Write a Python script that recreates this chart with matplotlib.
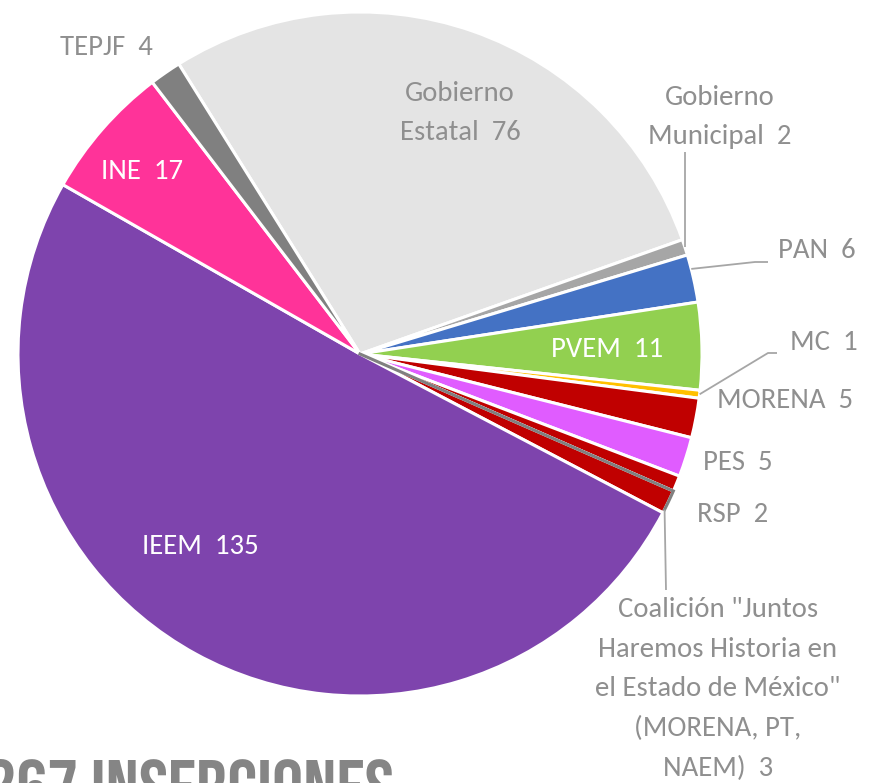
import numpy as np
import matplotlib
matplotlib.use("Agg")
import matplotlib.pyplot as plt

categories = ["Gobierno\nEstatal", "Gobierno\nMunicipal", "PAN", "PVEM", "MC", "MORENA",
              "PES", "RSP",
              "Coalición \"Juntos\nHaremos Historia en\nel Estado de México\"\n(MORENA, PT,\nNAEM)",
              "IEEM", "INE", "TEPJF"]
values = [76, 2, 6, 11, 1, 5, 5, 2, 3, 135, 17, 4]
colors = ["#e4e4e4", "#a6a6a6", "#4472c4", "#92d050", "#ffc000", "#c00000",
          "#e05cff", "#c00000", "#c00000", "#7e44ad", "#ff3399", "#808080"]
total_label = "267 INSERCIONES"

W, H = 869, 783
CX, CY, R = 360, 354, 342

fig = plt.figure(figsize=(W / 100, H / 100), dpi=100)
ax = fig.add_axes([(CX - R) / W, (H - CY - R) / H, 2 * R / W, 2 * R / H])

START = 122
wedges, _ = ax.pie(values, colors=colors, startangle=START, counterclock=False, radius=1,
                   wedgeprops=dict(edgecolor="white", linewidth=2.2))
ax.set_xlim(-1, 1)
ax.set_ylim(-1, 1)
ax.set_aspect("auto")
ax.axis("off")


def px(x, y):
    return (x - CX) / R, (CY - y) / R


tot = sum(values)
bounds = [START]
for v in values:
    bounds.append(bounds[-1] - 360 * v / tot)

label_color = "#8f8f8f"
lead_color = "#a6a6a6"
font = ["Carlito", "DejaVu Sans"]
fs = 20.7

label_pos = {
    0: (460, 113, label_color),
    1: (720, 117, label_color),
    2: (817, 251, label_color),
    3: (607, 350, "white"),
    4: (824, 343, label_color),
    5: (785, 401, label_color),
    6: (738, 463, label_color),
    7: (733, 514, label_color),
    8: (718, 689, label_color),
    9: (200, 547, "white"),
    10: (142, 172, "white"),
    11: (106, 48, label_color),
}
for i, (x, y, c) in label_pos.items():
    tx, ty = px(x, y)
    txt = f"{categories[i]}  {values[i]}"
    ax.text(tx, ty, txt, ha="center", va="center", color=c, fontsize=fs,
            family=font, linespacing=1.72)


def edge_point(i, frac=0.5, r=1.0):
    a = np.deg2rad(bounds[i] + (bounds[i + 1] - bounds[i]) * frac)
    return r * np.cos(a), r * np.sin(a)


lk = dict(color=lead_color, lw=1.3, clip_on=False, solid_capstyle="butt")
# Gobierno Municipal
x0, y0 = edge_point(1, 0.5, 1.0)
ax.plot([x0, x0], [y0, px(0, 152)[1]], **lk)
# PAN
x0, y0 = edge_point(2, 0.3, 1.0)
ax.plot([x0, px(755, 0)[0], px(768, 0)[0]], [y0, px(0, 262)[1], px(0, 262)[1]], **lk)
# MC
x0, y0 = edge_point(4, 0.5, 1.0)
ax.plot([x0, px(768, 0)[0], px(777, 0)[0]], [y0, px(0, 353)[1], px(0, 353)[1]], **lk)
# Coalicion outline + leader
a1 = np.deg2rad(bounds[8])
a2 = np.deg2rad(bounds[8] + (bounds[9] - bounds[8]) * 0.85)
arc = np.linspace(a1, a2, 20)
xs = [0] + list(np.cos(arc))
ys = [0] + list(np.sin(arc))
ax.plot(xs, ys, color="#808080", lw=2.2, solid_joinstyle="miter", clip_on=False)
ax.plot([np.cos(a2), px(666, 0)[0]], [np.sin(a2), px(0, 590)[1]], **lk)

# big total text
fig.text(-15 / W, 1 - 759 / H, total_label, ha="left", va="top", color="#858585",
         fontsize=56, family=["Bebas Neue", "DejaVu Sans"])

fig.savefig("out.png", dpi=100)
